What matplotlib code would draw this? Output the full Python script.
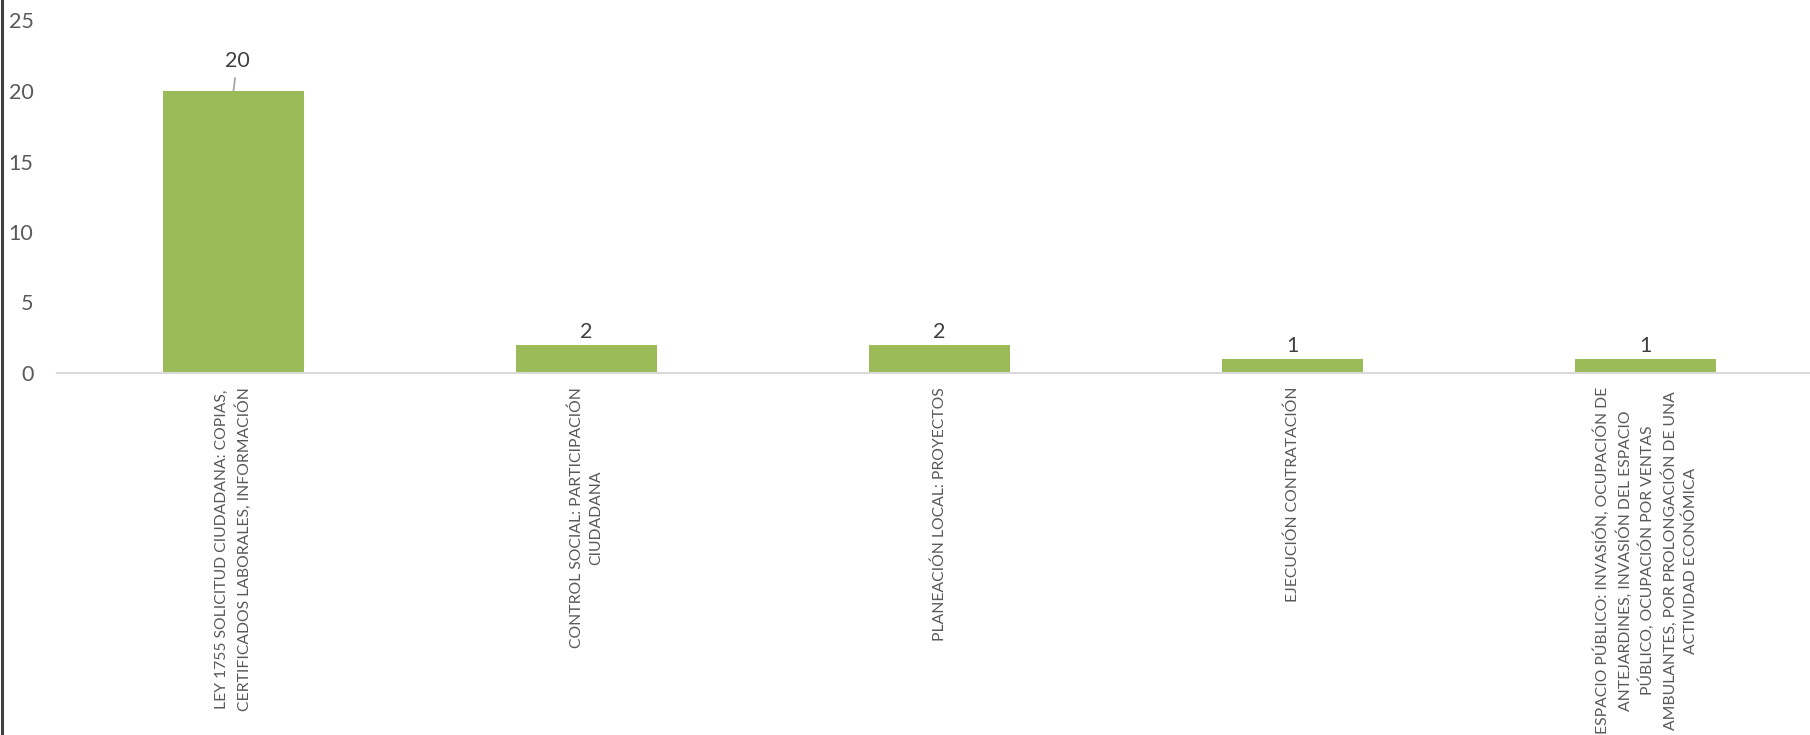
import matplotlib
matplotlib.use("Agg")
import matplotlib.pyplot as plt
from matplotlib.lines import Line2D

plt.rcParams['font.family'] = ['Lato', 'DejaVu Sans']

categories = [
    "LEY 1755 SOLICITUD CIUDADANA: COPIAS,\nCERTIFICADOS LABORALES, INFORMACIÓN",
    "CONTROL SOCIAL: PARTICIPACIÓN\nCIUDADANA",
    "PLANEACIÓN LOCAL: PROYECTOS",
    "EJECUCIÓN CONTRATACIÓN",
    "ESPACIO PÚBLICO: INVASIÓN, OCUPACIÓN DE\nANTEJARDINES, INVASIÓN DEL ESPACIO\n"
    "PÚBLICO, OCUPACIÓN POR VENTAS\nAMBULANTES, POR PROLONGACIÓN DE UNA\nACTIVIDAD ECONÓMICA",
]
values = [20, 2, 2, 1, 1]
yticks = [0, 5, 10, 15, 20, 25]

W, H = 1810, 735
fig = plt.figure(figsize=(W / 100, H / 100), dpi=100)
# axes box in pixels: left 57, right at figure edge, zero line at y=373, 25 at y=20.5
ax = fig.add_axes([57 / W, (H - 373) / H, (W - 57) / W, (373 - 20.5) / H])

x = list(range(len(values)))
bars = ax.bar(x, values, width=0.40, color='#9BBB59', zorder=2)

ax.set_xlim(-0.5, (W - 57) / 353 - 0.5)
ax.set_ylim(0, 25)
ax.set_yticks(yticks)
ax.tick_params(axis='y', length=0, pad=17, labelsize=15.5, labelcolor='#595959')
ax.tick_params(axis='x', length=0)
ax.set_xticks([])

for s in ['top', 'right', 'left']:
    ax.spines[s].set_visible(False)
ax.spines['bottom'].set_color('#D9D9D9')
ax.spines['bottom'].set_linewidth(1.5)

# category labels, rotated and top aligned under the axis
for xi, lab in zip(x, categories):
    ax.annotate(lab, xy=(xi, 0), xytext=(0, -10), textcoords='offset points',
                rotation=90, ha='center', va='top', multialignment='center',
                fontsize=11.3, color='#595959', linespacing=1.45,
                annotation_clip=False)

# value labels
for xi, v in zip(x, values):
    if v == max(values):
        ax.annotate(str(v), xy=(xi, v), xytext=(2.5, 21.5), textcoords='offset points',
                    ha='center', va='center', fontsize=15.5, color='#404040',
                    arrowprops=dict(arrowstyle='-', color='#A6A6A6', lw=1.3,
                                    shrinkA=3, shrinkB=0))
    else:
        ax.annotate(str(v), xy=(xi, v), xytext=(0, 9.5), textcoords='offset points',
                    ha='center', va='center', fontsize=15.5, color='#404040')

# dark border at the left edge
fig.add_artist(Line2D([1.5 / W, 1.5 / W], [0, 1], color='#404040', lw=2.2,
                      transform=fig.transFigure))

fig.savefig("out.png", dpi=100)
